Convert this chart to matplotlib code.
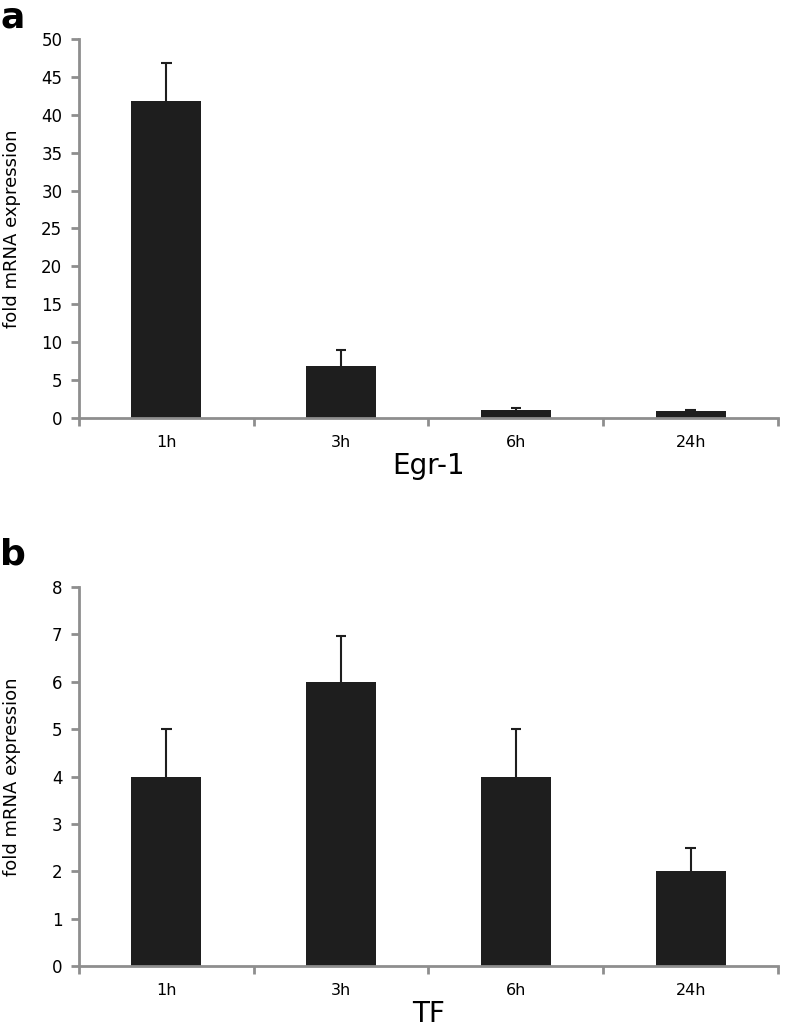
import matplotlib
matplotlib.use("Agg")
import matplotlib.pyplot as plt
import numpy as np

# data
times = ["1h", "3h", "6h", "24h"]
egr1_mean = [41.8, 6.8, 1.0, 0.95]
egr1_err = [5.0, 2.2, 0.35, 0.15]
tf_mean = [4.0, 6.0, 4.0, 2.0]
tf_err = [1.0, 0.97, 1.0, 0.5]

BAR_COLOR = "#1e1e1e"
AXIS_COLOR = "#8e8e8e"


def draw_panel(ax, means, errs, ymax, ystep, gene):
    x = np.arange(len(times))
    means = np.asarray(means)
    tops = means + np.asarray(errs)
    ax.bar(x, means, width=0.4, color=BAR_COLOR, zorder=2)
    # upper-only error bars
    ax.vlines(x, means, tops, color=BAR_COLOR, linewidth=1.5, zorder=3)
    ax.hlines(tops, x - 0.03, x + 0.03, color=BAR_COLOR, linewidth=1.5, zorder=3)

    ax.set_xlim(-0.5, len(times) - 0.5)
    ax.set_ylim(0, ymax)
    ax.set_yticks(np.arange(0, ymax + ystep / 2, ystep))

    # boundary ticks on x, labels at the bar centres
    ax.set_xticks(np.arange(-0.5, len(times)), [""] * (len(times) + 1))
    ax.set_xticks(x, times, minor=True)
    ax.tick_params(axis="x", which="minor", length=0, pad=12, labelsize=11.5)
    ax.tick_params(axis="x", which="major", length=6, width=2, color=AXIS_COLOR)
    ax.tick_params(axis="y", length=6, width=2, color=AXIS_COLOR, labelsize=12, pad=6)

    for side in ["top", "right"]:
        ax.spines[side].set_visible(False)
    for side in ["left", "bottom"]:
        ax.spines[side].set_color(AXIS_COLOR)
        ax.spines[side].set_linewidth(2)

    ax.set_ylabel("fold mRNA expression", fontsize=13)
    ax.yaxis.set_label_coords(-0.083, 0.5)
    ax.set_xlabel(gene, fontsize=20, labelpad=2)


fig = plt.figure(figsize=(7.93, 10.30), dpi=100)
ax_a = fig.add_axes([0.0996, 0.5942, 0.8815, 0.368])
ax_b = fig.add_axes([0.0996, 0.0621, 0.8815, 0.368])

draw_panel(ax_a, egr1_mean, egr1_err, 50, 5, "Egr-1")
draw_panel(ax_b, tf_mean, tf_err, 8, 1, "TF")

fig.text(0.0, 0.983, "a", fontsize=26, fontweight="bold", va="center", ha="left")
fig.text(0.0, 0.462, "b", fontsize=26, fontweight="bold", va="center", ha="left")

fig.savefig("out.png", dpi=100)
